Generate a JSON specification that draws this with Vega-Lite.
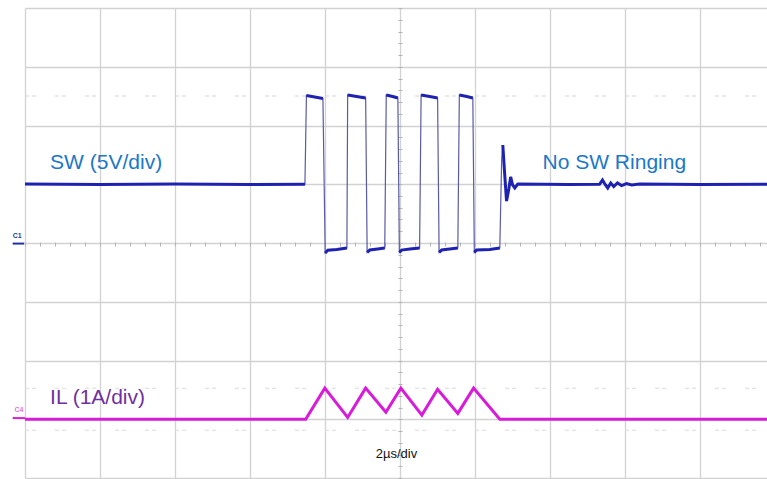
{
  "$schema": "https://vega.github.io/schema/vega-lite/v6.json",
  "width": 742,
  "height": 470,
  "autosize": {"type": "none"},
  "padding": {"left": 25, "top": 8, "right": 0, "bottom": 1},
  "background": "white",
  "config": {"view": {"stroke": null}, "font": "Liberation Sans"},
  "datasets": {
    "sw": [
      {"t": -10.0, "v": 5.02, "seg": 0}, {"t": -8.0, "v": 4.98, "seg": 0}, {"t": -6.0, "v": 5.03, "seg": 0}, {"t": -4.0, "v": 4.97, "seg": 0}, {"t": -2.53, "v": 5.0, "seg": 0},
      {"t": -2.49, "v": 12.55, "seg": 1}, {"t": -2.27, "v": 12.43, "seg": 1}, {"t": -2.05, "v": 12.3, "seg": 1},
      {"t": -1.99, "v": -0.85, "seg": 2}, {"t": -1.92, "v": -0.62, "seg": 2}, {"t": -1.68, "v": -0.55, "seg": 2}, {"t": -1.41, "v": -0.43, "seg": 2},
      {"t": -1.39, "v": 12.6, "seg": 3}, {"t": -1.15, "v": 12.47, "seg": 3}, {"t": -0.91, "v": 12.34, "seg": 3},
      {"t": -0.87, "v": -0.8, "seg": 4}, {"t": -0.8, "v": -0.6, "seg": 4}, {"t": -0.59, "v": -0.51, "seg": 4}, {"t": -0.4, "v": -0.43, "seg": 4},
      {"t": -0.36, "v": 12.6, "seg": 5}, {"t": -0.19, "v": 12.47, "seg": 5}, {"t": -0.05, "v": 12.34, "seg": 5},
      {"t": -0.01, "v": -0.8, "seg": 6}, {"t": 0.05, "v": -0.6, "seg": 6}, {"t": 0.27, "v": -0.51, "seg": 6}, {"t": 0.53, "v": -0.43, "seg": 6},
      {"t": 0.57, "v": 12.6, "seg": 7}, {"t": 0.8, "v": 12.47, "seg": 7}, {"t": 1.01, "v": 12.34, "seg": 7},
      {"t": 1.05, "v": -0.8, "seg": 8}, {"t": 1.12, "v": -0.6, "seg": 8}, {"t": 1.33, "v": -0.51, "seg": 8}, {"t": 1.55, "v": -0.43, "seg": 8},
      {"t": 1.59, "v": 12.6, "seg": 9}, {"t": 1.79, "v": 12.47, "seg": 9}, {"t": 1.95, "v": 12.34, "seg": 9},
      {"t": 1.99, "v": -0.8, "seg": 10}, {"t": 2.05, "v": -0.6, "seg": 10}, {"t": 2.4, "v": -0.55, "seg": 10}, {"t": 2.67, "v": -0.43, "seg": 10},
      {"t": 2.72, "v": 7.15},
      {"t": 2.75, "v": 8.34, "seg": 11}, {"t": 2.8, "v": 5.87, "seg": 11}, {"t": 2.85, "v": 3.57, "seg": 11}, {"t": 2.91, "v": 4.6, "seg": 11}, {"t": 2.96, "v": 5.62, "seg": 11}, {"t": 3.01, "v": 4.94, "seg": 11}, {"t": 3.07, "v": 4.68, "seg": 11}, {"t": 3.15, "v": 5.02, "seg": 11}, {"t": 4.5, "v": 4.98, "seg": 11}, {"t": 5.33, "v": 5.0, "seg": 11}, {"t": 5.41, "v": 5.36, "seg": 11}, {"t": 5.49, "v": 4.94, "seg": 11}, {"t": 5.55, "v": 4.68, "seg": 11}, {"t": 5.63, "v": 5.11, "seg": 11}, {"t": 5.71, "v": 4.81, "seg": 11}, {"t": 5.81, "v": 5.11, "seg": 11}, {"t": 5.92, "v": 4.89, "seg": 11}, {"t": 6.05, "v": 5.06, "seg": 11}, {"t": 6.19, "v": 4.94, "seg": 11}, {"t": 6.4, "v": 5.02, "seg": 11}, {"t": 8.0, "v": 4.98, "seg": 11}, {"t": 9.8, "v": 5.0, "seg": 11}
    ],
    "il": [
      {"t": -10.0, "a": 0.0}, {"t": -2.51, "a": 0.0}, {"t": -2.0, "a": 0.53}, {"t": -1.39, "a": 0.03}, {"t": -0.91, "a": 0.53}, {"t": -0.37, "a": 0.12}, {"t": 0.03, "a": 0.53}, {"t": 0.59, "a": 0.07}, {"t": 1.01, "a": 0.51}, {"t": 1.55, "a": 0.1}, {"t": 1.97, "a": 0.53}, {"t": 2.67, "a": 0.0}, {"t": 9.8, "a": 0.0}
    ],
    "swCursor": [{"t": -10.0, "t2": 9.8, "v": 12.51}],
    "ilCursor": [{"t": -10.0, "t2": 9.8, "a": 0.528}, {"t": -10.0, "t2": 9.8, "a": -0.187}],
    "swLabels": [{"t": -9.33, "v": 6.3, "label": "SW (5V/div)"}, {"t": 3.81, "v": 6.3, "label": "No SW Ringing"}],
    "ilLabels": [{"t": -9.33, "a": 0.255, "label": "IL (1A/div)"}],
    "timeLabel": [{"t": -0.64, "a": -0.664, "label": "2µs/div"}],
    "c1Text": [{"t": -10.33, "v": 0.45, "label": "C1"}],
    "c1Line": [{"t": -10.33, "t2": -10.02, "v": -0.05}],
    "c4Text": [{"t": -10.28, "a": 0.12, "label": "C4"}],
    "c4Line": [{"t": -10.33, "t2": -10.0, "a": 0.02}]
  },
  "layer": [
    {
      "encoding": {
        "x": {"field": "t", "type": "quantitative", "scale": {"domain": [-10, 9.8], "nice": false, "zero": false},
              "axis": {"orient": "bottom", "values": [-10, -8, -6, -4, -2, 0, 2, 4, 6, 8], "grid": true, "gridColor": "#d2d2d2", "gridWidth": 1.3, "ticks": false, "labels": false, "domain": false, "title": null}},
        "y": {"field": "v", "type": "quantitative", "scale": {"domain": [-20, 20], "nice": false, "zero": false},
              "axis": {"orient": "left", "values": [-20, -15, -10, -5, 0, 5, 10, 15, 20], "grid": true, "gridColor": "#d2d2d2", "gridWidth": 1.3, "ticks": false, "labels": false, "domain": false, "title": null}}
      },
      "layer": [
        {"data": {"name": "swCursor"}, "mark": {"type": "rule", "color": "#d6d6d6", "strokeWidth": 1.2, "strokeDash": [4, 3, 4, 19]}, "encoding": {"x2": {"field": "t2"}}},
        {"data": {"name": "sw"}, "mark": {"type": "line", "color": "#5a5aa6", "strokeWidth": 1.2}},
        {"data": {"name": "sw"}, "transform": [{"filter": "datum.seg != null"}], "mark": {"type": "line", "color": "#1e22b0", "strokeWidth": 3}, "encoding": {"detail": {"field": "seg", "type": "nominal"}}},
        {"data": {"name": "swLabels"}, "mark": {"type": "text", "align": "left", "baseline": "alphabetic", "fontSize": 21, "color": "#1a78c8", "font": "Liberation Sans"}, "encoding": {"text": {"field": "label"}}},
        {"data": {"name": "c1Text"}, "mark": {"type": "text", "align": "left", "baseline": "alphabetic", "fontSize": 7, "fontWeight": "bold", "color": "#2a3a9a"}, "encoding": {"text": {"field": "label"}}},
        {"data": {"name": "c1Line"}, "mark": {"type": "rule", "color": "#2030a8", "strokeWidth": 2}, "encoding": {"x2": {"field": "t2"}}}
      ]
    },
    {
      "encoding": {
        "x": {"field": "t", "type": "quantitative", "scale": {"domain": [-10, 9.8], "nice": false, "zero": false},
              "axis": {"orient": "bottom", "offset": -236, "values": [-10, -9.6, -9.2, -8.8, -8.4, -8, -7.6, -7.2, -6.8, -6.4, -6, -5.6, -5.2, -4.8, -4.4, -4, -3.6, -3.2, -2.8, -2.4, -2, -1.6, -1.2, -0.8, -0.4, 0, 0.4, 0.8, 1.2, 1.6, 2, 2.4, 2.8, 3.2, 3.6, 4, 4.4, 4.8, 5.2, 5.6, 6, 6.4, 6.8, 7.2, 7.6, 8, 8.4, 8.8, 9.2, 9.6], "grid": false, "ticks": true, "tickSize": 4, "tickColor": "#b4b4b4", "tickWidth": 1, "labels": false, "domain": false, "title": null}},
        "y": {"field": "a", "type": "quantitative", "scale": {"domain": [-1, 7], "nice": false, "zero": false},
              "axis": {"orient": "left", "offset": -377, "values": [-1, -0.8, -0.6, -0.4, -0.2, 0, 0.2, 0.4, 0.6, 0.8, 1, 1.2, 1.4, 1.6, 1.8, 2, 2.2, 2.4, 2.6, 2.8, 3, 3.2, 3.4, 3.6, 3.8, 4, 4.2, 4.4, 4.6, 4.8, 5, 5.2, 5.4, 5.6, 5.8, 6, 6.2, 6.4, 6.6, 6.8, 7], "grid": false, "ticks": true, "tickSize": 4, "tickColor": "#b4b4b4", "tickWidth": 1, "labels": false, "domain": false, "title": null}}
      },
      "layer": [
        {"data": {"name": "ilCursor"}, "mark": {"type": "rule", "color": "#dcdcdc", "strokeWidth": 1.2, "strokeDash": [4, 3, 4, 19]}, "encoding": {"x2": {"field": "t2"}}},
        {"data": {"name": "il"}, "mark": {"type": "line", "color": "#d81bd8", "strokeWidth": 3}},
        {"data": {"name": "ilLabels"}, "mark": {"type": "text", "align": "left", "baseline": "alphabetic", "fontSize": 21, "color": "#7030a0", "font": "Liberation Sans"}, "encoding": {"text": {"field": "label"}}},
        {"data": {"name": "timeLabel"}, "mark": {"type": "text", "align": "left", "baseline": "alphabetic", "fontSize": 13, "color": "#111111", "font": "Liberation Sans"}, "encoding": {"text": {"field": "label"}}},
        {"data": {"name": "c4Text"}, "mark": {"type": "text", "align": "left", "baseline": "alphabetic", "fontSize": 7, "fontWeight": "bold", "color": "#e07ad8"}, "encoding": {"text": {"field": "label"}}},
        {"data": {"name": "c4Line"}, "mark": {"type": "rule", "color": "#e020d0", "strokeWidth": 2}, "encoding": {"x2": {"field": "t2"}}}
      ]
    }
  ],
  "resolve": {"scale": {"y": "independent"}, "axis": {"x": "independent", "y": "independent"}}
}
